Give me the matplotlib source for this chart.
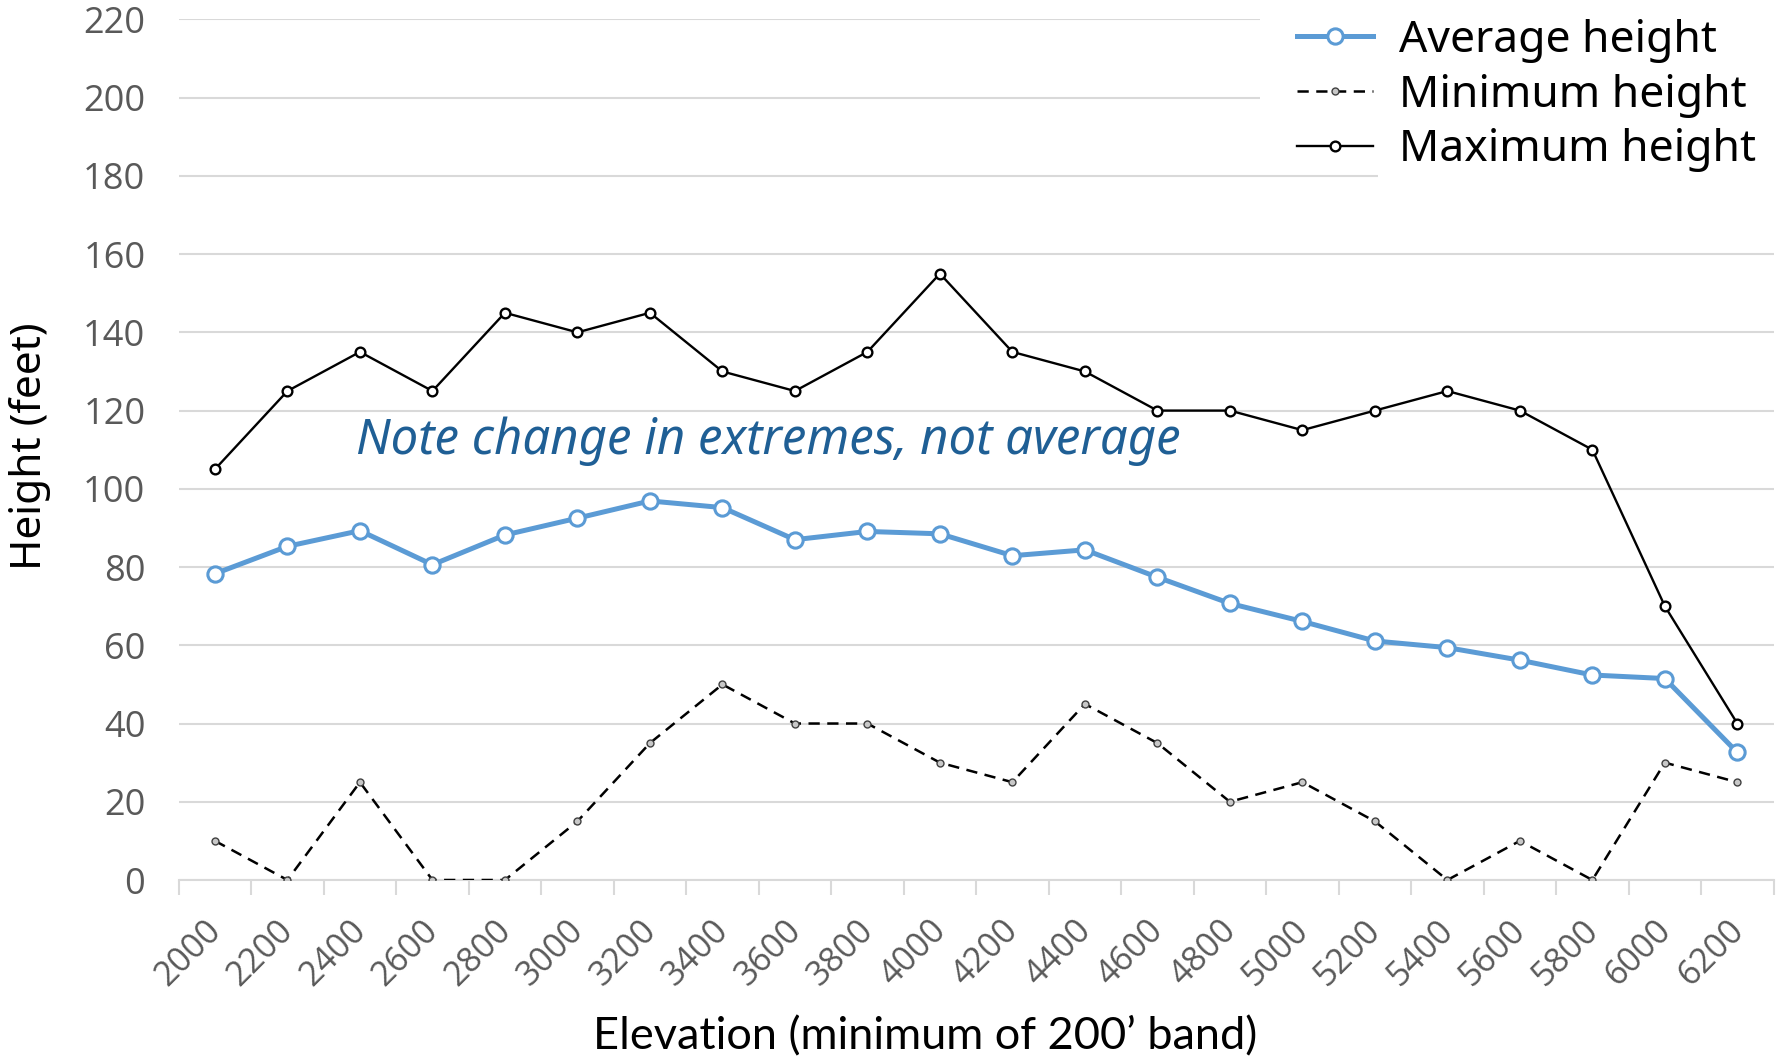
import matplotlib
matplotlib.use("Agg")
import matplotlib.pyplot as plt
from matplotlib.patches import Rectangle
from matplotlib.transforms import ScaledTranslation

# Tree heights by elevation band (lower edge of each 200-ft band)
elevations = [2000, 2200, 2400, 2600, 2800, 3000, 3200, 3400, 3600, 3800, 4000,
              4200, 4400, 4600, 4800, 5000, 5200, 5400, 5600, 5800, 6000, 6200]
avg_height = [78.3, 85.3, 89.3, 80.6, 88.2, 92.5, 96.9, 95.2, 87.0, 89.1, 88.5,
              82.9, 84.4, 77.4, 70.7, 66.1, 61.1, 59.4, 56.2, 52.4, 51.5, 32.6]
min_height = [10, 0, 25, 0, 0, 15, 35, 50, 40, 40, 30,
              25, 45, 35, 20, 25, 15, 0, 10, 0, 30, 25]
max_height = [105, 125, 135, 125, 145, 140, 145, 130, 125, 135, 155,
              135, 130, 120, 120, 115, 120, 125, 120, 110, 70, 40]
y_ticks = list(range(0, 221, 20))
x_labels = [str(e) for e in elevations]

W, H = 1785, 1058
fig = plt.figure(figsize=(W / 100, H / 100), dpi=100)
fig.patch.set_facecolor("white")

left, right, top, bottom = 178.7, 1773.6, 19.4, 880.0
ax = fig.add_axes([left / W, 1 - bottom / H, (right - left) / W, (bottom - top) / H])

xs = list(range(len(elevations)))
grey_txt = "#595959"
grid_c = "#d9d9d9"

l_max, = ax.plot(xs, max_height, color="black", lw=1.7, marker="o", ms=7,
                 mfc="white", mec="black", mew=1.7, zorder=3)
l_min, = ax.plot(xs, min_height, color="black", lw=1.8, ls=(0, (4.5, 3)),
                 marker="o", ms=5, mfc="#c8c8c8", mec="#404040", mew=1.0, zorder=3)
l_avg, = ax.plot(xs, avg_height, color="#5B9BD5", lw=3.6, marker="o", ms=11,
                 mfc="white", mec="#5B9BD5", mew=2.2, zorder=4)

ax.set_xlim(-0.5, len(elevations) - 0.5)
ax.set_ylim(0, 220)
ax.set_yticks(y_ticks)
ax.set_yticklabels([str(v) for v in y_ticks], family="Open Sans")
ax.set_xticks(xs)
ax.set_xticklabels(x_labels, rotation=45, ha="right", va="top",
                   rotation_mode="anchor", family="Open Sans")
ax.set_xticks([i - 0.5 for i in range(len(elevations) + 1)], minor=True)
ax.tick_params(axis="x", which="major", length=0, pad=24, labelsize=24.5,
               labelcolor=grey_txt)
ax.tick_params(axis="x", which="minor", length=11, width=1.5, color=grid_c)
ax.tick_params(axis="y", length=0, pad=24, labelsize=26, labelcolor=grey_txt)
# nudge the slanted labels left so their upper ends sit under each category
shift = ScaledTranslation(-11 / 100, 0, fig.dpi_scale_trans)
for lbl in ax.get_xticklabels():
    lbl.set_transform(lbl.get_transform() + shift)
ax.yaxis.grid(True, color=grid_c, lw=1.5)
ax.set_axisbelow(True)
for s in ["top", "right", "left"]:
    ax.spines[s].set_visible(False)
ax.spines["bottom"].set_color(grid_c)
ax.spines["bottom"].set_linewidth(1.5)

# Axis titles
fig.text(30 / W, 1 - 446 / H, "Height (feet)", rotation=90, ha="center",
         va="center", fontsize=30.5, family="Noto Sans", color="black")
fig.text(925 / W, 1 - 1037 / H, "Elevation (minimum of 200\u2019 band)",
         ha="center", va="center", fontsize=32.5, family="Lato", color="black")

# Callout
fig.text(356 / W, 1 - 441 / H, "Note change in extremes, not average",
         ha="left", va="center", fontsize=35.3, family="Noto Sans",
         style="italic", color="#1f5f95")

# White backing behind the legend
fig.add_artist(Rectangle((1260 / W, 1 - 165 / H), 1 - 1260 / W, 165 / H,
                         transform=fig.transFigure, fc="white", ec="none", zorder=2))
fig.add_artist(Rectangle((1378 / W, 1 - 190 / H), 1 - 1378 / W, 26 / H,
                         transform=fig.transFigure, fc="white", ec="none", zorder=2))

fig.legend([l_avg, l_min, l_max], ["Average height", "Minimum height", "Maximum height"],
           loc="upper left", bbox_to_anchor=(1297 / W, 1 - 19 / H),
           frameon=False, prop={"family": "Noto Sans", "size": 32},
           handlelength=1.7, handletextpad=0.6, labelspacing=0.24,
           borderaxespad=0, borderpad=0)

fig.savefig("out.png", dpi=100, facecolor="white")
